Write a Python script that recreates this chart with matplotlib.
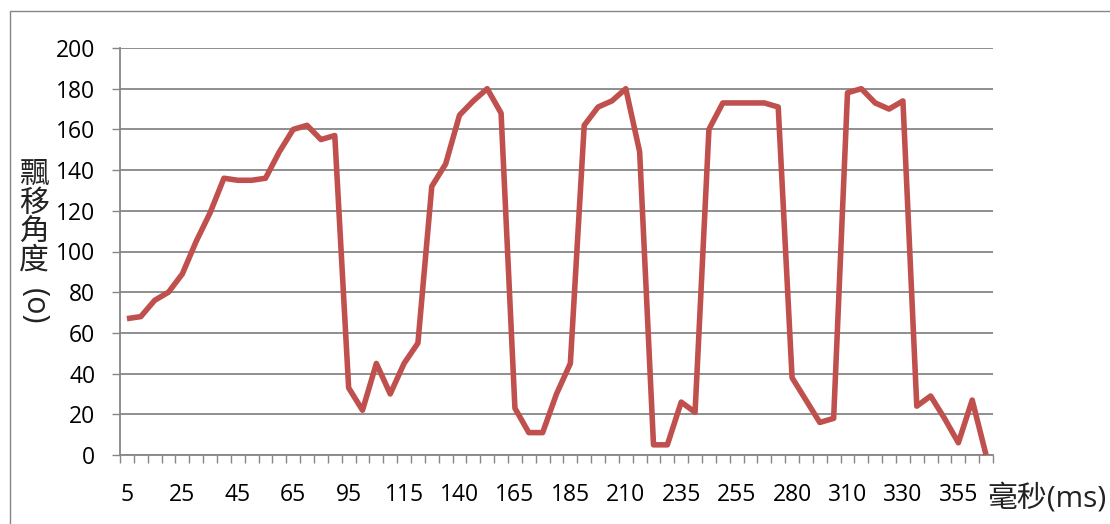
import matplotlib
matplotlib.use("Agg")
import matplotlib.pyplot as plt
from matplotlib.patches import Rectangle
import numpy as np

# drift angle per sample, one value per category
angles = [67, 68, 76, 80, 89, 105, 119, 136, 135, 135, 136, 149, 160, 162, 155, 157,
          33, 22, 45, 30, 45, 55, 132, 143, 167, 174, 180, 168, 23, 11, 11, 30,
          45, 162, 171, 174, 180, 149, 5, 5, 26, 21, 160, 173, 173, 173, 173, 171,
          38, 27, 16, 18, 178, 180, 173, 170, 174, 24, 29, 18, 6, 27, 0]

# time labels shown under every 4th sample
time_labels = ["5", "25", "45", "65", "95", "115", "140", "165", "185", "210",
               "235", "255", "280", "310", "330", "355"]

y_ticks = list(range(0, 201, 20))

W, H = 1110, 524
gray = "#868686"
red = "#C0504D"
latin_cjk = ["Open Sans", "Noto Sans CJK TC", "DejaVu Sans"]

fig = plt.figure(figsize=(W / 100, H / 100), dpi=100)
fig.patch.set_facecolor("white")

# outer chart frame
fig.patches.append(Rectangle((10 / W, -0.1), 1.2, 1 - 11 / H + 0.1,
                             transform=fig.transFigure, fill=False,
                             edgecolor=gray, linewidth=1.0))

ax = fig.add_axes([120 / W, 1 - 455 / H, 873 / W, 407 / H])
x = np.arange(len(angles))
ax.plot(x, angles, color=red, linewidth=4.0, solid_joinstyle="round",
        solid_capstyle="butt", clip_on=False, zorder=3)

ax.set_xlim(-0.5, len(angles) - 0.5)
ax.set_ylim(0, 200)

ax.set_yticks(y_ticks)
ax.set_yticklabels([str(v) for v in y_ticks])
ax.yaxis.grid(True, color=gray, linewidth=1.3)
ax.set_axisbelow(True)

ax.set_xticks(np.arange(0, len(angles), 4))
ax.set_xticklabels(time_labels)
ax.set_xticks(np.arange(-0.5, len(angles), 1), minor=True)

ax.tick_params(axis="x", which="major", length=0, pad=20, labelsize=16.5)
ax.tick_params(axis="x", which="minor", length=5.8, width=1.0, color=gray)
ax.tick_params(axis="y", length=5.8, width=1.0, color=gray, pad=12, labelsize=16.5)
for lab in ax.get_xticklabels() + ax.get_yticklabels():
    lab.set_family(latin_cjk)

for side in ("top", "right"):
    ax.spines[side].set_visible(False)
for side in ("left", "bottom"):
    ax.spines[side].set_color(gray)
    ax.spines[side].set_linewidth(1.3)

# axis titles
fig.text(987 / W, 1 - 499 / H, "毫秒(ms)", family=latin_cjk, fontsize=21.5,
         ha="left", va="center", color="#222222")
fig.text(34 / W, 1 - 161 / H, "飄\n移\n角\n度", family=latin_cjk, fontsize=21.5,
         ha="center", va="top", linespacing=0.98, color="#222222")
fig.text(34 / W, 1 - 306 / H, "(o)", family=latin_cjk, fontsize=22,
         rotation=270, ha="center", va="center", color="#222222")

fig.savefig("out.png", dpi=100)
